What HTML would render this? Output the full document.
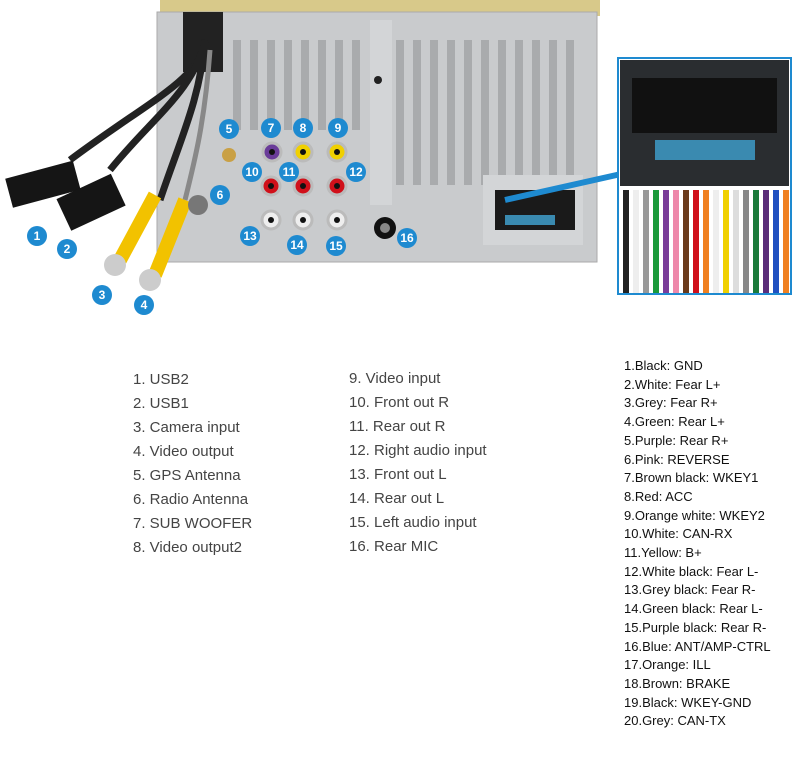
<!DOCTYPE html>
<html><head><style>
body{margin:0;width:800px;height:774px;background:#fff;overflow:hidden;position:relative;font-family:"Liberation Sans",sans-serif}
.t{position:absolute;color:#444;font-size:15px;line-height:24px}
.r{position:absolute;left:624px;top:357px;color:#111;font-size:13px;line-height:18.7px}
</style></head><body>
<svg width="800" height="330" style="position:absolute;left:0;top:0">
<rect x="160" y="0" width="440" height="16" fill="#d8c98a"/>
<rect x="157" y="12" width="440" height="250" fill="#c9cbcd" stroke="#aaa"/>
<g fill="#a9abad">
<rect x="233" y="40" width="8" height="90"/><rect x="250" y="40" width="8" height="90"/><rect x="267" y="40" width="8" height="90"/><rect x="284" y="40" width="8" height="90"/><rect x="301" y="40" width="8" height="90"/><rect x="318" y="40" width="8" height="90"/><rect x="335" y="40" width="8" height="90"/><rect x="352" y="40" width="8" height="90"/>
<rect x="396" y="40" width="8" height="145"/><rect x="413" y="40" width="8" height="145"/><rect x="430" y="40" width="8" height="145"/><rect x="447" y="40" width="8" height="145"/><rect x="464" y="40" width="8" height="145"/><rect x="481" y="40" width="8" height="145"/><rect x="498" y="40" width="8" height="145"/><rect x="515" y="40" width="8" height="145"/><rect x="532" y="40" width="8" height="145"/><rect x="549" y="40" width="8" height="145"/><rect x="566" y="40" width="8" height="145"/>
</g>
<rect x="370" y="20" width="22" height="185" fill="#d3d5d7"/>
<circle cx="378" cy="80" r="4" fill="#222"/>
<rect x="483" y="175" width="100" height="70" fill="#d3d5d7"/>
<rect x="495" y="190" width="80" height="40" fill="#1a1a1a"/>
<rect x="505" y="215" width="50" height="10" fill="#3a8ab0"/>
<rect x="183" y="12" width="40" height="60" fill="#222"/>
<g fill="none" stroke="#222" stroke-width="7">
<path d="M205 40 C200 80 150 100 70 160"/><path d="M205 40 C195 90 150 120 110 170"/><path d="M205 40 C200 100 180 140 160 200"/>
</g>
<path d="M210 50 C205 120 195 160 185 200" stroke="#888" stroke-width="5" fill="none"/>
<rect x="8" y="170" width="70" height="30" fill="#151515" transform="rotate(-15 40 185)"/>
<rect x="60" y="185" width="60" height="35" fill="#151515" transform="rotate(-25 90 200)"/>
<path d="M155 195 L120 260 M185 200 L155 275" stroke="#f2c200" stroke-width="14"/>
<circle cx="115" cy="265" r="11" fill="#ccc"/><circle cx="150" cy="280" r="11" fill="#ccc"/>
<circle cx="198" cy="205" r="10" fill="#777"/>
<circle cx="229" cy="155" r="7" fill="#c9a045"/>
<g stroke="#bbb" stroke-width="3">
<circle cx="272" cy="152" r="9" fill="#6a3c99"/><circle cx="303" cy="152" r="9" fill="#f0d000"/><circle cx="337" cy="152" r="9" fill="#f0d000"/>
<circle cx="271" cy="186" r="9" fill="#d0101a"/><circle cx="303" cy="186" r="9" fill="#d0101a"/><circle cx="337" cy="186" r="9" fill="#d0101a"/>
<circle cx="271" cy="220" r="9" fill="#eee"/><circle cx="303" cy="220" r="9" fill="#eee"/><circle cx="337" cy="220" r="9" fill="#eee"/>
</g>
<g fill="#111"><circle cx="272" cy="152" r="3"/><circle cx="303" cy="152" r="3"/><circle cx="337" cy="152" r="3"/><circle cx="271" cy="186" r="3"/><circle cx="303" cy="186" r="3"/><circle cx="337" cy="186" r="3"/><circle cx="271" cy="220" r="3"/><circle cx="303" cy="220" r="3"/><circle cx="337" cy="220" r="3"/></g>
<circle cx="385" cy="228" r="11" fill="#111"/><circle cx="385" cy="228" r="5" fill="#888"/>
<path d="M505 200 L630 172" stroke="#1e8ad0" stroke-width="6"/><path d="M640 170 L622 162 L626 182Z" fill="#1e8ad0"/>
<rect x="618" y="58" width="173" height="236" fill="#fff" stroke="#1e8ad0" stroke-width="2"/>
<rect x="620" y="60" width="169" height="126" fill="#2a2d30"/>
<rect x="632" y="78" width="145" height="55" fill="#111"/>
<rect x="655" y="140" width="100" height="20" fill="#3a8ab0"/>
<g stroke-width="6">
<path d="M626 190v103" stroke="#222"/><path d="M636 190v103" stroke="#eee"/><path d="M646 190v103" stroke="#999"/><path d="M656 190v103" stroke="#1a9a3a"/><path d="M666 190v103" stroke="#7a3c99"/><path d="M676 190v103" stroke="#ee88aa"/><path d="M686 190v103" stroke="#6a3a1a"/><path d="M696 190v103" stroke="#d0101a"/><path d="M706 190v103" stroke="#f08020"/><path d="M716 190v103" stroke="#eee"/><path d="M726 190v103" stroke="#f0d000"/><path d="M736 190v103" stroke="#ddd"/><path d="M746 190v103" stroke="#888"/><path d="M756 190v103" stroke="#1a7a3a"/><path d="M766 190v103" stroke="#5a2c79"/><path d="M776 190v103" stroke="#2050c0"/><path d="M786 190v103" stroke="#f08020"/>
</g>
<g fill="#1e8ad0"><circle cx="37" cy="236" r="10"/><circle cx="67" cy="249" r="10"/><circle cx="102" cy="295" r="10"/><circle cx="144" cy="305" r="10"/><circle cx="229" cy="129" r="10"/><circle cx="220" cy="195" r="10"/><circle cx="271" cy="128" r="10"/><circle cx="303" cy="128" r="10"/><circle cx="338" cy="128" r="10"/><circle cx="252" cy="172" r="10"/><circle cx="289" cy="172" r="10"/><circle cx="356" cy="172" r="10"/><circle cx="250" cy="236" r="10"/><circle cx="297" cy="245" r="10"/><circle cx="336" cy="246" r="10"/><circle cx="407" cy="238" r="10"/></g>
<g fill="#fff" font-size="12" font-weight="bold" text-anchor="middle" font-family="Liberation Sans">
<text x="37" y="240">1</text><text x="67" y="253">2</text><text x="102" y="299">3</text><text x="144" y="309">4</text><text x="229" y="133">5</text><text x="220" y="199">6</text><text x="271" y="132">7</text><text x="303" y="132">8</text><text x="338" y="132">9</text><text x="252" y="176">10</text><text x="289" y="176">11</text><text x="356" y="176">12</text><text x="250" y="240">13</text><text x="297" y="249">14</text><text x="336" y="250">15</text><text x="407" y="242">16</text></g>
</svg>
<div class="t" style="left:133px;top:368px">1. USB2<br>2. USB1<br>3. Camera input<br>4. Video output<br>5. GPS Antenna<br>6. Radio Antenna<br>7. SUB WOOFER<br>8. Video output2</div>
<div class="t" style="left:349px;top:367px">9. Video input<br>10. Front out R<br>11. Rear out R<br>12. Right audio input<br>13. Front out L<br>14. Rear out L<br>15. Left audio input<br>16. Rear MIC</div>
<div class="r">1.Black: GND<br>2.White: Fear L+<br>3.Grey: Fear R+<br>4.Green: Rear L+<br>5.Purple: Rear R+<br>6.Pink: REVERSE<br>7.Brown black: WKEY1<br>8.Red: ACC<br>9.Orange white: WKEY2<br>10.White: CAN-RX<br>11.Yellow: B+<br>12.White black: Fear L-<br>13.Grey black: Fear R-<br>14.Green black: Rear L-<br>15.Purple black: Rear R-<br>16.Blue: ANT/AMP-CTRL<br>17.Orange: ILL<br>18.Brown: BRAKE<br>19.Black: WKEY-GND<br>20.Grey: CAN-TX</div>
</body></html>
